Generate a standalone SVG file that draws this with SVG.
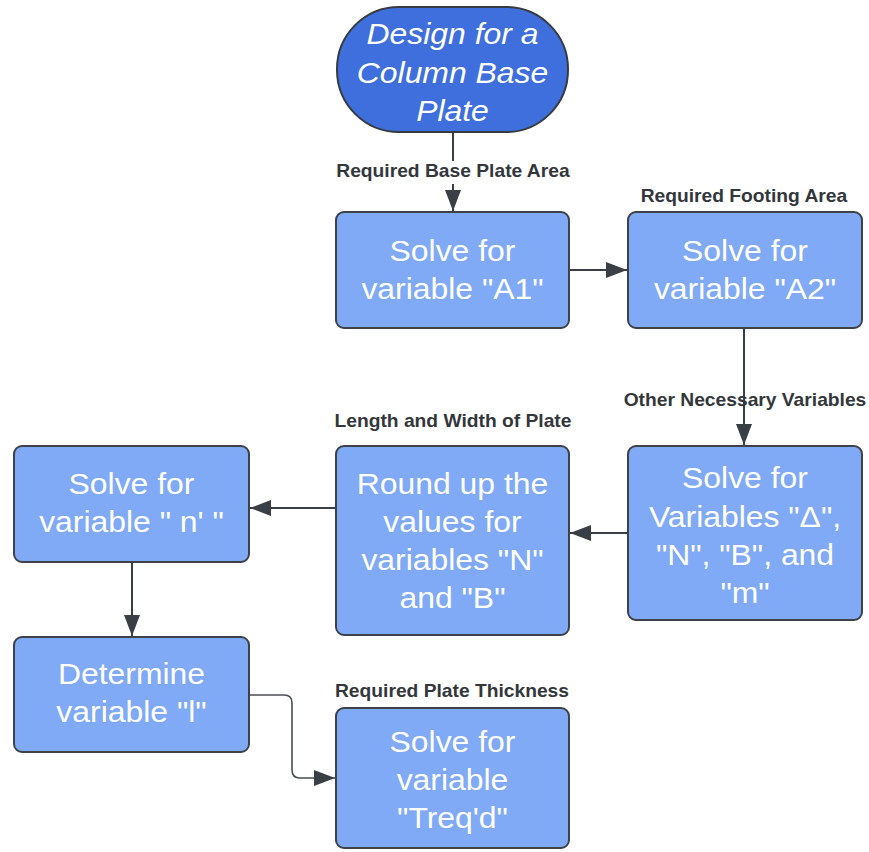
<svg xmlns="http://www.w3.org/2000/svg" width="869" height="852" viewBox="0 0 869 852">
  <style>
    .box { fill: #80aaf5; stroke: #3d4249; stroke-width: 2; }
    .start { fill: #3e6fdd; stroke: #363b42; stroke-width: 2; }
    .t { font-family: "Liberation Sans", Arial, sans-serif; font-size: 29px; fill: #ffffff; text-anchor: middle;
         transform-box: fill-box; transform-origin: center; transform: scaleX(1.1); }
    .ti { font-style: italic; }
    .lbl { font-family: "Liberation Sans", Arial, sans-serif; font-size: 17.5px; font-weight: bold; fill: #33373c; text-anchor: middle;
           transform-box: fill-box; transform-origin: center; transform: scaleX(1.1); }
    .edge { fill: none; stroke: #3a3f46; stroke-width: 2; }
    .edge-thin { fill: none; stroke: #4a4f56; stroke-width: 1.6; }
  </style>
  <defs>
    <marker id="arrow" markerUnits="userSpaceOnUse" markerWidth="22" markerHeight="16" refX="21" refY="8" orient="auto">
      <path d="M0,0 L21,8 L0,16 Z" fill="#3a3f46"/>
    </marker>
  </defs>

  <rect width="869" height="852" fill="#ffffff"/>

  <!-- connectors -->
  <g id="connectors">
    <line class="edge" x1="453" y1="132" x2="453" y2="161"/>
    <line class="edge" x1="453" y1="184" x2="453" y2="211" marker-end="url(#arrow)"/>
    <line class="edge" x1="569" y1="270" x2="627" y2="270" marker-end="url(#arrow)"/>
    <line class="edge" x1="744" y1="328" x2="744" y2="445" marker-end="url(#arrow)"/>
    <line class="edge" x1="628" y1="533" x2="570" y2="533" marker-end="url(#arrow)"/>
    <line class="edge" x1="336" y1="508" x2="250" y2="508" marker-end="url(#arrow)"/>
    <line class="edge" x1="132" y1="562" x2="132" y2="636" marker-end="url(#arrow)"/>
    <path class="edge-thin" d="M249,695 H284 Q292,695 292,703 V770 Q292,778 300,778 H335" marker-end="url(#arrow)"/>
  </g>

  <!-- edge labels -->
  <g id="edge-labels">
    <text class="lbl" x="453" y="177">Required Base Plate Area</text>
    <text class="lbl" x="744" y="202">Required Footing Area</text>
    <text class="lbl" x="745" y="406">Other Necessary Variables</text>
    <text class="lbl" x="453" y="427">Length and Width of Plate</text>
    <text class="lbl" x="452" y="697">Required Plate Thickness</text>
  </g>

  <g id="start">
    <rect class="start" x="337" y="7" width="231" height="125" rx="62" ry="62"/>
    <text class="t ti" x="452.5" y="44">Design for a</text>
    <text class="t ti" x="452.5" y="83">Column Base</text>
    <text class="t ti" x="452.5" y="121">Plate</text>
  </g>

  <g id="solve-a1">
    <rect class="box" x="336" y="212" width="233" height="116" rx="8"/>
    <text class="t" x="452.5" y="261">Solve for</text>
    <text class="t" x="452.5" y="299">variable "A1"</text>
  </g>

  <g id="solve-a2">
    <rect class="box" x="628" y="212" width="234" height="116" rx="8"/>
    <text class="t" x="745" y="261">Solve for</text>
    <text class="t" x="745" y="299">variable "A2"</text>
  </g>

  <g id="solve-delta">
    <rect class="box" x="628" y="446" width="234" height="174" rx="8"/>
    <text class="t" x="745" y="488">Solve for</text>
    <text class="t" x="745" y="527">Variables "Δ",</text>
    <text class="t" x="745" y="565">"N", "B", and</text>
    <text class="t" x="745" y="603">"m"</text>
  </g>

  <g id="round-up">
    <rect class="box" x="336" y="446" width="233" height="189" rx="8"/>
    <text class="t" x="452.5" y="494">Round up the</text>
    <text class="t" x="452.5" y="532">values for</text>
    <text class="t" x="452.5" y="570">variables "N"</text>
    <text class="t" x="452.5" y="608">and "B"</text>
  </g>

  <g id="solve-n">
    <rect class="box" x="14" y="446" width="235" height="116" rx="8"/>
    <text class="t" x="131.5" y="494">Solve for</text>
    <text class="t" x="131.5" y="532">variable " n' "</text>
  </g>

  <g id="determine-l">
    <rect class="box" x="14" y="637" width="235" height="115" rx="8"/>
    <text class="t" x="131.5" y="684">Determine</text>
    <text class="t" x="131.5" y="722">variable "l"</text>
  </g>

  <g id="solve-treq">
    <rect class="box" x="336" y="708" width="233" height="140" rx="8"/>
    <text class="t" x="452.5" y="752">Solve for</text>
    <text class="t" x="452.5" y="790">variable</text>
    <text class="t" x="452.5" y="828">"Treq'd"</text>
  </g>
</svg>
